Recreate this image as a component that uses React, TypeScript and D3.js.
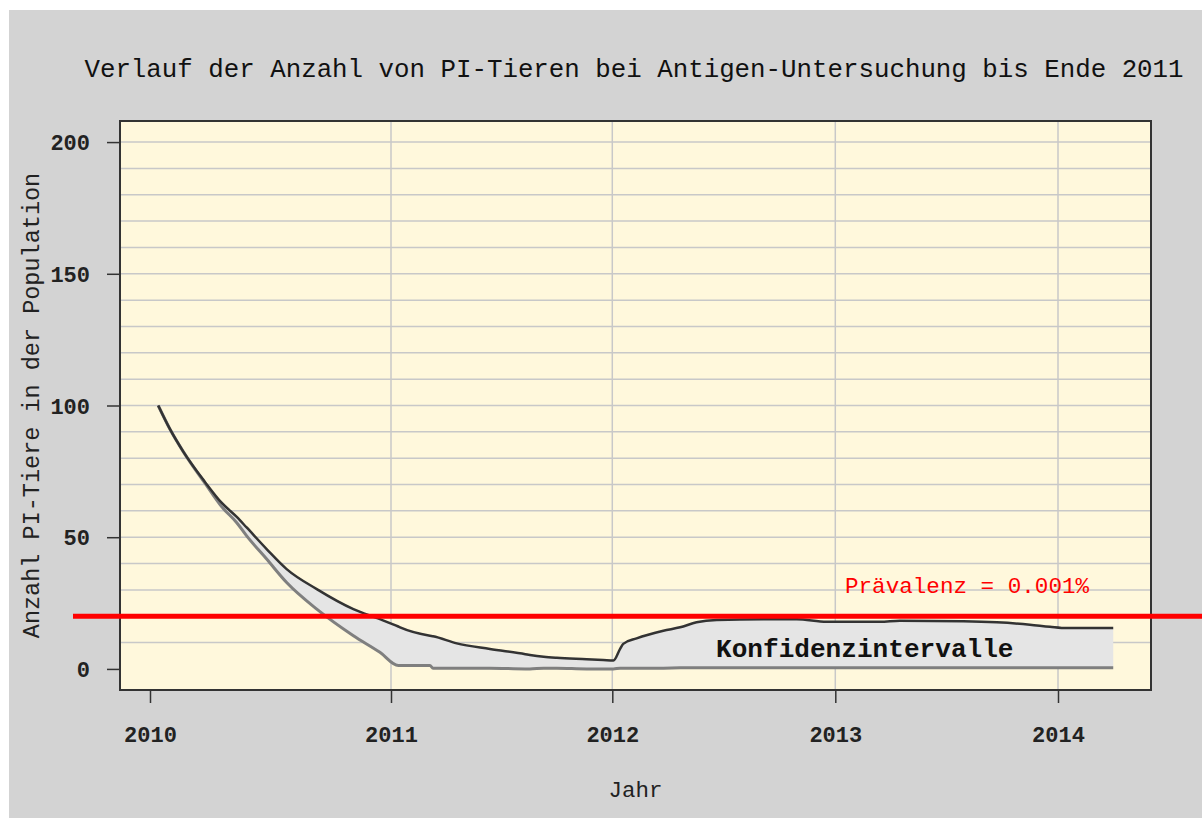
import React, { useEffect, useRef } from "react";
import * as d3 from "d3";

// Jahr (decimal) -> Anzahl PI-Tiere, upper / lower bound of the band
const years = [
  2010.034, 2010.083, 2010.138, 2010.228, 2010.298, 2010.36, 2010.401, 2010.484,
  2010.567, 2010.692, 2010.844, 2010.954, 2011.033, 2011.041, 2011.176, 2011.19,
  2011.297, 2011.447, 2011.607, 2011.628, 2011.69, 2011.749, 2011.884, 2011.959,
  2012.005, 2012.035, 2012.049, 2012.109, 2012.229, 2012.304, 2012.378, 2012.468,
  2012.677, 2012.827, 2012.961, 2013.201, 2013.29, 2013.575, 2013.725, 2013.874,
  2013.964, 2014.039, 2014.248,
];
const upper = [
  100, 91, 82.5, 71, 63, 57.7, 53.7, 45.5,
  37.9, 30.3, 22.7, 18.9, 16.1, 15.8, 12.6, 12.4,
  9.7, 7.6, 5.6, 5.3, 4.6, 4.2, 3.7, 3.4,
  3.2, 7.6, 9.5, 11.6, 14.5, 15.8, 17.7, 18.6,
  18.9, 18.9, 17.9, 17.9, 18.3, 18.1, 17.7, 16.8,
  16.0, 15.5, 15.5,
];
const lower = [
  100, 91, 82.5, 70.5, 61.5, 55.5, 50.5, 41.7,
  32.8, 22.7, 12.6, 6.3, 1.3, 1.3, 1.3, 0.3,
  0.3, 0.3, 0, 0, 0.3, 0.3, 0, 0,
  0, 0.3, 0.3, 0.3, 0.3, 0.4, 0.4, 0.4,
  0.4, 0.4, 0.4, 0.4, 0.4, 0.4, 0.4, 0.4,
  0.4, 0.4, 0.4,
];

const yearTicks = [2010, 2011, 2012, 2013, 2014];
const valueTicks = [0, 50, 100, 150, 200];
const gridValues = [10, 20, 30, 40, 50, 60, 70, 80, 90, 100, 110, 120, 130, 140, 150, 160, 170, 180, 190, 200];
const prevalence = 20;

const FONT = "'Liberation Mono', 'Courier New', monospace";

type Row = { yr: number; hi: number; lo: number };

const App = () => {
  const svgRef = useRef<SVGSVGElement>(null);

  useEffect(() => {
    const svg = d3.select(svgRef.current);
    svg.selectAll("*").remove();

    const width = 1202;
    const height = 818;
    const panel = { left: 120, top: 121, right: 1151, bottom: 690 };

    svg.attr("width", width).attr("height", height);

    // page + plot background
    svg.append("rect").attr("width", width).attr("height", height).attr("fill", "#ffffff");
    svg.append("rect").attr("x", 9).attr("y", 10).attr("width", width - 9).attr("height", height - 10).attr("fill", "#d3d3d3");
    svg.append("rect")
      .attr("x", panel.left).attr("y", panel.top)
      .attr("width", panel.right - panel.left).attr("height", panel.bottom - panel.top)
      .attr("fill", "#fff8dc");

    // Scales (year axis spacing in the original is uneven)
    const x = d3.scaleLinear()
      .domain(yearTicks)
      .range([150, 391, 612.3, 835.3, 1058]);
    const y = d3.scaleLinear()
      .domain([-8, 208])
      .range([panel.bottom, panel.top]);

    // grid
    svg.append("g").selectAll("line")
      .data(gridValues)
      .enter().append("line")
      .attr("x1", panel.left).attr("x2", panel.right)
      .attr("y1", d => y(d)).attr("y2", d => y(d))
      .attr("stroke", "#c8c8c8").attr("stroke-width", 1.5);
    svg.append("g").selectAll("line")
      .data(yearTicks.slice(1))
      .enter().append("line")
      .attr("x1", d => x(d)).attr("x2", d => x(d))
      .attr("y1", panel.top).attr("y2", panel.bottom)
      .attr("stroke", "#c8c8c8").attr("stroke-width", 1.5);

    const rows: Row[] = years.map((yr, i) => ({ yr, hi: upper[i], lo: lower[i] }));

    // band
    const area = d3.area<Row>()
      .curve(d3.curveMonotoneX)
      .x(d => x(d.yr)).y0(d => y(d.lo)).y1(d => y(d.hi));
    svg.append("path").datum(rows).attr("d", area).attr("fill", "#e5e5e5");

    const lineLo = d3.line<Row>().curve(d3.curveMonotoneX).x(d => x(d.yr)).y(d => y(d.lo));
    const lineHi = d3.line<Row>().curve(d3.curveMonotoneX).x(d => x(d.yr)).y(d => y(d.hi));
    svg.append("path").datum(rows).attr("d", lineLo)
      .attr("fill", "none").attr("stroke", "#7f7f7f").attr("stroke-width", 3);
    svg.append("path").datum(rows).attr("d", lineHi)
      .attr("fill", "none").attr("stroke", "#333333").attr("stroke-width", 2.5);

    // panel border
    svg.append("rect")
      .attr("x", panel.left).attr("y", panel.top)
      .attr("width", panel.right - panel.left).attr("height", panel.bottom - panel.top)
      .attr("fill", "none").attr("stroke", "#333333").attr("stroke-width", 2);

    // X-axis
    const gx = svg.append("g")
      .attr("transform", `translate(0,${panel.bottom})`)
      .call(d3.axisBottom(x).tickValues(yearTicks).tickFormat(d3.format("d")).tickSize(13).tickSizeOuter(0));
    gx.select(".domain").remove();
    gx.selectAll("line").attr("stroke", "#333333").attr("stroke-width", 1.5);
    gx.selectAll("text")
      .attr("y", 52).attr("dy", 0)
      .attr("fill", "#222222")
      .style("font-family", FONT).style("font-size", "22px").style("font-weight", "bold");

    // Y-axis
    const gy = svg.append("g")
      .attr("transform", `translate(${panel.left},0)`)
      .call(d3.axisLeft(y).tickValues(valueTicks).tickSize(13).tickSizeOuter(0));
    gy.select(".domain").remove();
    gy.selectAll("line").attr("stroke", "#333333").attr("stroke-width", 1.5);
    gy.selectAll("text")
      .attr("x", -30).attr("dy", "0.35em")
      .attr("fill", "#222222")
      .style("font-family", FONT).style("font-size", "22px").style("font-weight", "bold");

    // prevalence line
    svg.append("line")
      .attr("x1", 73).attr("x2", width)
      .attr("y1", y(prevalence)).attr("y2", y(prevalence))
      .attr("stroke", "#ff0000").attr("stroke-width", 5);

    svg.append("text")
      .attr("x", 845).attr("y", 593)
      .attr("fill", "#ff0000")
      .style("font-family", FONT).style("font-size", "22.6px")
      .text("Prävalenz = 0.001%");

    svg.append("text")
      .attr("x", 716).attr("y", 657)
      .attr("fill", "#111111")
      .style("font-family", FONT).style("font-size", "26.1px").style("font-weight", "bold")
      .text("Konfidenzintervalle");

    // titles
    svg.append("text")
      .attr("x", 634).attr("y", 77)
      .attr("text-anchor", "middle")
      .attr("fill", "#111111")
      .style("font-family", FONT).style("font-size", "25.8px")
      .text("Verlauf der Anzahl von PI-Tieren bei Antigen-Untersuchung bis Ende 2011");

    svg.append("text")
      .attr("x", (panel.left + panel.right) / 2).attr("y", 797)
      .attr("text-anchor", "middle")
      .attr("fill", "#222222")
      .style("font-family", FONT).style("font-size", "22.5px")
      .text("Jahr");

    svg.append("text")
      .attr("transform", `translate(39,${(panel.top + panel.bottom) / 2}) rotate(-90)`)
      .attr("text-anchor", "middle")
      .attr("fill", "#222222")
      .style("font-family", FONT).style("font-size", "23.5px")
      .text("Anzahl PI-Tiere in der Population");
  }, []);

  return (
    <svg ref={svgRef} style={{ position: "absolute", left: 0, top: 0, display: "block" }}></svg>
  );
};

export default App;
